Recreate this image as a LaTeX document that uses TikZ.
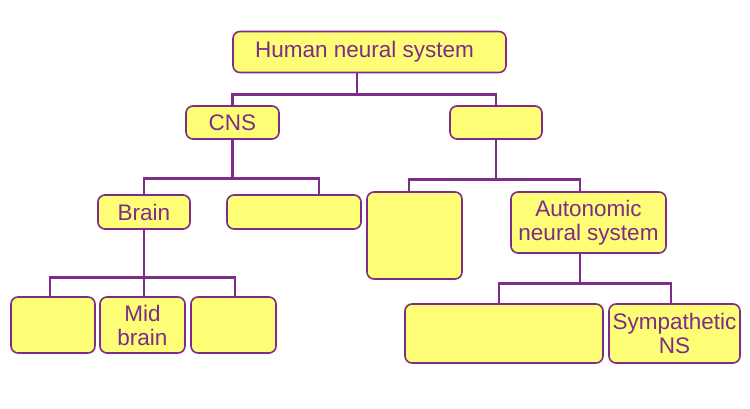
\documentclass[tikz,border=0pt]{standalone}
\usepackage{fontspec}
\setmainfont{Liberation Sans}
\definecolor{hnsyellow}{RGB}{253,253,118}
\definecolor{hnspurple}{RGB}{125,45,135}
\begin{document}
\begin{tikzpicture}[x=1pt,y=-1pt,
	box/.style={draw=hnspurple, fill=hnsyellow, line width=1.6pt, rounded corners=7pt,
		inner sep=0pt, text=hnspurple, align=center,
		font=\fontsize{22.5}{24}\selectfont},
	link/.style={hnspurple, line width=2.8pt}]
	\useasboundingbox (0,0) rectangle (750,408);

	% level 0 and 1
	\node[box, minimum width=273pt, minimum height=41pt] (hns) at (369.5,52) {Human neural system\hspace*{10pt}};
	\node[box, minimum width=93pt, minimum height=33pt] (cns) at (232.5,122.5) {CNS};
	\node[box, minimum width=92pt, minimum height=33pt] (pns) at (496,122.5) {};

	% level 2
	\node[box, minimum width=92pt, minimum height=34pt] (brain) at (144,212) {Brain};
	\node[box, minimum width=134pt, minimum height=34pt] (spinal) at (294,212) {};
	\node[box, minimum width=95pt, minimum height=87pt] (somatic) at (414.5,235.5) {};
	\node[box, minimum width=155pt, minimum height=61pt] (ans) at (588.5,222.5) {Autonomic\\neural system};

	% level 3
	\node[box, minimum width=84pt, minimum height=56pt] (fore) at (53,325) {};
	\node[box, minimum width=85pt, minimum height=56pt] (mid) at (142.5,325) {Mid\\brain};
	\node[box, minimum width=85pt, minimum height=56pt] (hind) at (233.5,325) {};
	\node[box, minimum width=198pt, minimum height=59pt] (para) at (504,333.5) {};
	\node[box, minimum width=131pt, minimum height=59pt] (symp) at (674.5,333.5) {Sympathetic\\NS};

	% connectors
	\draw[link] ([xshift=-12.5pt]hns.south) -- ++(0,21) -| (cns.north);
	\draw[link] ([xshift=-12.5pt]hns.south) -- ++(0,21) -| (pns.north);
	\draw[link] (cns.south) -- ++(0,39) -| (brain.north);
	\draw[link] (cns.south) -- ++(0,39) -| ([xshift=25pt]spinal.north);
	\draw[link] (pns.south) -- ++(0,40) -| ([xshift=-5.5pt]somatic.north);
	\draw[link] (pns.south) -- ++(0,40) -| ([xshift=-8.5pt]ans.north);
	\draw[link] (brain.south) -- ([xshift=1.5pt]mid.north);
	\draw[link] (brain.south) -- ++(0,48) -| ([xshift=-3pt]fore.north);
	\draw[link] (brain.south) -- ++(0,48) -| ([xshift=1.5pt]hind.north);
	\draw[link] ([xshift=-8.5pt]ans.south) -- ++(0,30) -| ([xshift=-5pt]para.north);
	\draw[link] ([xshift=-8.5pt]ans.south) -- ++(0,30) -| ([xshift=-3.5pt]symp.north);
\end{tikzpicture}
\end{document}
